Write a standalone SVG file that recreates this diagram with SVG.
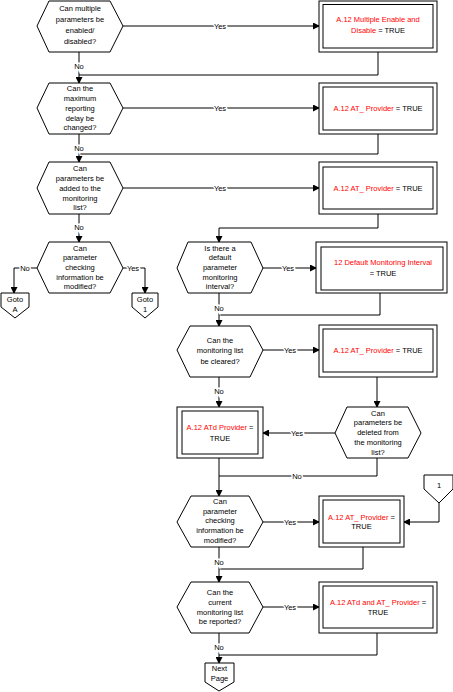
<svg xmlns="http://www.w3.org/2000/svg" width="453" height="692" viewBox="0 0 453 692">
<style>
text{font-family:"Liberation Sans",Arial,sans-serif;font-size:7.5px;fill:#000;text-anchor:middle;dominant-baseline:central}
.r{fill:#ff0000}
.s{fill:#fff;stroke:#000;stroke-width:1}
.c{fill:none;stroke:#000;stroke-width:1}
.l{stroke:#fff;stroke-width:3;paint-order:stroke}
</style>
<defs>
<marker id="a" markerUnits="userSpaceOnUse" markerWidth="7" markerHeight="7" refX="6" refY="3.5" orient="auto"><path d="M0,0 L7,3.5 L0,7 Z" fill="#000"/></marker>
</defs>
<rect width="453" height="692" fill="#fff"/>
<g id="connectors">
<path class="c" d="M123,26 H319" marker-end="url(#a)"/>
<path class="c" d="M79,52 V83" marker-end="url(#a)"/>
<path class="c" d="M378,52 V75 H79"/>
<path class="c" d="M123,108 H319" marker-end="url(#a)"/>
<path class="c" d="M79,134 V162" marker-end="url(#a)"/>
<path class="c" d="M378,134 V154 H79"/>
<path class="c" d="M123,188 H319" marker-end="url(#a)"/>
<path class="c" d="M79,214 V242" marker-end="url(#a)"/>
<path class="c" d="M378,214 V228 H219 V242" marker-end="url(#a)"/>
<path class="c" d="M37,268 H14 V293" marker-end="url(#a)"/>
<path class="c" d="M123,268 H145 V293" marker-end="url(#a)"/>
<path class="c" d="M263,268 H316" marker-end="url(#a)"/>
<path class="c" d="M219,293 V326" marker-end="url(#a)"/>
<path class="c" d="M380,293 V315 H219"/>
<path class="c" d="M263,350 H319" marker-end="url(#a)"/>
<path class="c" d="M219,377 V407" marker-end="url(#a)"/>
<path class="c" d="M377,377 V407" marker-end="url(#a)"/>
<path class="c" d="M335,433 H263" marker-end="url(#a)"/>
<path class="c" d="M219,458 V496" marker-end="url(#a)"/>
<path class="c" d="M377,458 V476 H219"/>
<path class="c" d="M439,503 V522 H404" marker-end="url(#a)"/>
<path class="c" d="M263,522 H319" marker-end="url(#a)"/>
<path class="c" d="M219,547 V582" marker-end="url(#a)"/>
<path class="c" d="M363,547 V569 H219"/>
<path class="c" d="M263,607 H319" marker-end="url(#a)"/>
<path class="c" d="M219,633 V663" marker-end="url(#a)"/>
<path class="c" d="M377,633 V655 H219"/>
<text class="l" x="220" y="26">Yes</text>
<text class="l" x="79" y="66">No</text>
<text class="l" x="220" y="108">Yes</text>
<text class="l" x="79" y="148">No</text>
<text class="l" x="220" y="188">Yes</text>
<text class="l" x="79" y="227">No</text>
<text class="l" x="25" y="268">No</text>
<text class="l" x="133" y="268">Yes</text>
<text class="l" x="288" y="268">Yes</text>
<text class="l" x="219" y="308">No</text>
<text class="l" x="290" y="350">Yes</text>
<text class="l" x="219" y="391">No</text>
<text class="l" x="297" y="433">Yes</text>
<text class="l" x="297" y="476">No</text>
<text class="l" x="290" y="522">Yes</text>
<text class="l" x="219" y="562">No</text>
<text class="l" x="290" y="607">Yes</text>
<text class="l" x="219" y="647">No</text>
</g>
<g id="q1"><polygon class="s" points="37,26 49,1 110,1 123,26 110,52 49,52"/>
<text x="80" y="8">Can multiple</text><text x="80" y="19">parameters be</text><text x="80" y="30">enabled/</text><text x="80" y="41">disabled?</text></g>
<g id="b1"><rect class="s" x="319" y="1" width="118" height="51"/><rect class="s" x="323" y="4.5" width="110" height="43.5"/>
<text x="378" y="19" class="r">A.12 Multiple Enable and</text><text x="378" y="30"><tspan class="r">Disable</tspan> = TRUE</text></g>
<g id="q2"><polygon class="s" points="37,108 49,83 110,83 123,108 110,134 49,134"/>
<text x="80" y="88">Can the</text><text x="80" y="98">maximum</text><text x="80" y="108">reporting</text><text x="80" y="118">delay be</text><text x="80" y="127.5">changed?</text></g>
<g id="b2"><rect class="s" x="319" y="83" width="118" height="51"/><rect class="s" x="323" y="87" width="110" height="43"/>
<text x="378" y="108"><tspan class="r">A.12 AT_ Provider</tspan> = TRUE</text></g>
<g id="q3"><polygon class="s" points="37,188 49,162 110,162 123,188 110,214 49,214"/>
<text x="80" y="168">Can</text><text x="80" y="178">parameters be</text><text x="80" y="188">added to the</text><text x="80" y="198">monitoring</text><text x="80" y="207.5">list?</text></g>
<g id="b3"><rect class="s" x="319" y="162" width="118" height="52"/><rect class="s" x="323" y="167" width="110" height="42"/>
<text x="378" y="188"><tspan class="r">A.12 AT_ Provider</tspan> = TRUE</text></g>
<g id="q4"><polygon class="s" points="37,268 49,242 110,242 123,268 110,293 49,293"/>
<text x="80" y="248">Can</text><text x="80" y="257.5">parameter</text><text x="80" y="267">checking</text><text x="80" y="277">information be</text><text x="80" y="286.5">modified?</text></g>
<g id="gotoA"><polygon class="s" points="1,293 29,293 29,307 15,318 1,307"/><text x="15" y="299">Goto</text><text x="15" y="309">A</text></g>
<g id="goto1"><polygon class="s" points="132,293 158,293 158,307 145,318 132,307"/><text x="145" y="299">Goto</text><text x="145" y="309">1</text></g>
<g id="q5"><polygon class="s" points="177,268 188,242 251,242 263,268 251,293 188,293"/>
<text x="220" y="248">Is there a</text><text x="220" y="257.5">default</text><text x="220" y="267">parameter</text><text x="220" y="277">monitoring</text><text x="220" y="286.5">interval?</text></g>
<g id="b5"><rect class="s" x="316" y="242" width="131" height="51"/><rect class="s" x="321" y="247" width="122" height="43"/>
<text x="383" y="262" class="r">12 Default Monitoring Interval</text><text x="383" y="273">= TRUE</text></g>
<g id="q6"><polygon class="s" points="177,350 190,326 250,326 263,350 250,377 190,377"/>
<text x="220" y="340">Can the</text><text x="220" y="350">monitoring list</text><text x="220" y="361">be cleared?</text></g>
<g id="b6"><rect class="s" x="319" y="325" width="118" height="52"/><rect class="s" x="323" y="329" width="110" height="43"/>
<text x="378" y="350"><tspan class="r">A.12 AT_ Provider</tspan> = TRUE</text></g>
<g id="b7"><rect class="s" x="177" y="407" width="86" height="51"/><rect class="s" x="182" y="411" width="76" height="43"/>
<text x="220" y="427"><tspan class="r">A.12 ATd Provider</tspan> =</text><text x="220" y="438">TRUE</text></g>
<g id="q7"><polygon class="s" points="335,433 347,407 408,407 421,433 408,458 347,458"/>
<text x="378" y="413">Can</text><text x="378" y="422.5">parameters be</text><text x="378" y="432">deleted from</text><text x="378" y="442">the monitoring</text><text x="378" y="452">list?</text></g>
<g id="conn1"><polygon class="s" points="424,475 453,475 453,489 439,503 424,489"/><text x="439" y="485">1</text></g>
<g id="q8"><polygon class="s" points="177,522 191,496 249,496 263,522 249,547 191,547"/>
<text x="220" y="501.5">Can</text><text x="220" y="511">parameter</text><text x="220" y="520">checking</text><text x="220" y="530">information be</text><text x="220" y="540">modified?</text></g>
<g id="b8"><rect class="s" x="319" y="496" width="85" height="51"/><rect class="s" x="323" y="500" width="77" height="43"/>
<text x="361.5" y="517"><tspan class="r">A.12 AT_ Provider</tspan> =</text><text x="361.5" y="526">TRUE</text></g>
<g id="q9"><polygon class="s" points="177,607 191,582 249,582 263,607 249,633 191,633"/>
<text x="220" y="592">Can the</text><text x="220" y="602">current</text><text x="220" y="612">monitoring list</text><text x="220" y="621">be reported?</text></g>
<g id="b9"><rect class="s" x="319" y="582" width="118" height="51"/><rect class="s" x="323" y="586" width="110" height="42"/>
<text x="378" y="602"><tspan class="r">A.12 ATd and AT_ Provider</tspan> =</text><text x="378" y="612">TRUE</text></g>
<g id="next"><polygon class="s" points="205,663 234,663 234,682 219,691 205,682"/><text x="219.5" y="668">Next</text><text x="219.5" y="678">Page</text></g>
</svg>
